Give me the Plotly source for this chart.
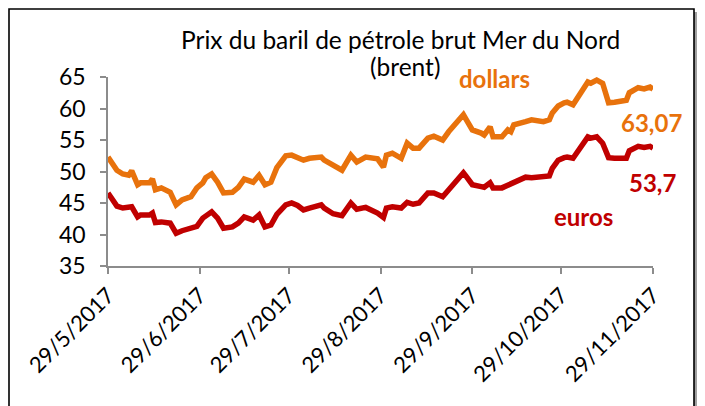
import plotly.graph_objects as go

# ---- data ----
dates = [
    "2017-05-29", "2017-05-30", "2017-06-01", "2017-06-03", "2017-06-05", "2017-06-06",
    "2017-06-08", "2017-06-09", "2017-06-12", "2017-06-13", "2017-06-14", "2017-06-16",
    "2017-06-19", "2017-06-21", "2017-06-23", "2017-06-26", "2017-06-28", "2017-06-30",
    "2017-07-01", "2017-07-03", "2017-07-05", "2017-07-07", "2017-07-10", "2017-07-12",
    "2017-07-14", "2017-07-17", "2017-07-19", "2017-07-21", "2017-07-23", "2017-07-25",
    "2017-07-28", "2017-07-30", "2017-08-01", "2017-08-03", "2017-08-05", "2017-08-09",
    "2017-08-10", "2017-08-13", "2017-08-16", "2017-08-19", "2017-08-21", "2017-08-24",
    "2017-08-28", "2017-08-30", "2017-08-31", "2017-09-02", "2017-09-05", "2017-09-07",
    "2017-09-09", "2017-09-11", "2017-09-14", "2017-09-16", "2017-09-19", "2017-09-21",
    "2017-09-23", "2017-09-26", "2017-09-27", "2017-09-29", "2017-10-02", "2017-10-03",
    "2017-10-05", "2017-10-06", "2017-10-09", "2017-10-11", "2017-10-12", "2017-10-13",
    "2017-10-17", "2017-10-19", "2017-10-23", "2017-10-25", "2017-10-26", "2017-10-28",
    "2017-10-30", "2017-10-31", "2017-11-02", "2017-11-04", "2017-11-07", "2017-11-08",
    "2017-11-10", "2017-11-12", "2017-11-13", "2017-11-14", "2017-11-16", "2017-11-20",
    "2017-11-21", "2017-11-24", "2017-11-26", "2017-11-28", "2017-11-29",
]

dollars = [
    52.3, 51.5, 50.2, 49.6, 49.4, 50.1,
    47.9, 48.2, 48.2, 48.8, 47.1, 47.4,
    46.7, 44.7, 45.5, 46.0, 47.4, 48.2,
    49.0, 49.6, 48.3, 46.6, 46.7, 47.5,
    48.8, 48.3, 49.4, 47.9, 48.3, 50.6,
    52.5, 52.6, 52.3, 51.8, 52.1, 52.3,
    51.8, 51.0, 50.2, 52.6, 51.5, 52.3,
    52.0, 50.7, 52.6, 52.9, 52.1, 54.5,
    53.7, 53.7, 55.3, 55.6, 55.0, 56.3,
    57.4, 59.0, 58.2, 56.6, 56.1, 55.8,
    57.1, 55.5, 55.5, 56.6, 56.3, 57.4,
    57.9, 58.2, 57.9, 58.2, 59.3, 60.4,
    60.9, 61.0, 60.6, 62.1, 64.2, 64.0,
    64.5, 64.0, 62.6, 60.9, 61.0, 61.3,
    62.5, 63.3, 63.1, 63.4, 63.07,
]

euros = [
    46.6, 45.8, 44.5, 44.2, 44.3, 44.4,
    42.8, 43.1, 43.1, 43.4, 41.9, 42.0,
    41.8, 40.2, 40.6, 40.9, 41.3, 42.6,
    43.0, 43.6, 42.6, 41.0, 41.2, 41.8,
    42.8, 42.3, 43.1, 41.2, 41.5, 43.2,
    44.7, 45.0, 44.6, 43.9, 44.2, 44.7,
    44.2, 43.3, 43.0, 45.0, 44.0, 44.3,
    43.4, 42.7, 44.2, 44.4, 44.2, 45.1,
    44.8, 45.0, 46.6, 46.6, 46.0, 47.1,
    47.9, 49.8, 49.2, 47.9, 47.6, 47.5,
    48.2, 47.4, 47.4, 47.8, 47.9, 48.3,
    49.1, 49.0, 49.2, 49.3, 50.5, 51.8,
    52.2, 52.3, 52.1, 53.4, 55.5, 55.3,
    55.5, 54.5, 53.5, 52.2, 52.1, 52.1,
    53.3, 54.0, 53.8, 54.0, 53.7,
]

tick_dates = ["2017-05-29", "2017-06-29", "2017-07-29", "2017-08-29",
              "2017-09-29", "2017-10-29", "2017-11-29"]
tick_labels = ["29/5/2017", "29/6/2017", "29/7/2017", "29/8/2017",
               "29/9/2017", "29/10/2017", "29/11/2017"]
y_ticks = [35, 40, 45, 50, 55, 60, 65]

title_line1 = "Prix du baril de pétrole brut Mer du Nord"
title_line2 = "(brent)"

ORANGE = "#E8720C"
RED = "#C00000"
FONT = "Lato"

# ---- layout geometry (pixels, in page coordinates) ----
OFF = 8  # page body margin offset
W_PAGE, H_PAGE = 705, 406
L, R, T, B = 108, 653, 77, 266
PW, PH = R - L, B - T


def px(x):
    return (x - L) / PW


def py(y):
    return (B - y) / PH


fig = go.Figure()
fig.add_trace(go.Scatter(x=dates, y=dollars, mode="lines", name="dollars",
                         line=dict(color=ORANGE, width=5.5), showlegend=False))
fig.add_trace(go.Scatter(x=dates, y=euros, mode="lines", name="euros",
                         line=dict(color=RED, width=5.5), showlegend=False))

shapes = [
    # shadow
    dict(type="rect", xref="paper", yref="paper", x0=px(14), x1=px(700), y0=py(14), y1=py(470),
         line=dict(width=0), fillcolor="#d8d8d8", layer="below"),
    dict(type="rect", xref="paper", yref="paper", x0=px(12), x1=px(697), y0=py(12), y1=py(470),
         line=dict(width=0), fillcolor="#a0a0a0", layer="below"),
    # frame
    dict(type="rect", xref="paper", yref="paper", x0=px(9), x1=px(694), y0=py(9), y1=py(470),
         line=dict(color="black", width=1.6), fillcolor="white", layer="below"),
]

annotations = [
    dict(text=title_line1, x=px(400), y=py(40), xref="paper", yref="paper",
         showarrow=False, font=dict(family=FONT, size=24.5, color="black"),
         xanchor="center", yanchor="middle"),
    dict(text=title_line2, x=px(405), y=py(67), xref="paper", yref="paper",
         showarrow=False, font=dict(family=FONT, size=24.5, color="black"),
         xanchor="center", yanchor="middle"),
    dict(text="<b>dollars</b>", x=px(494), y=py(78), xref="paper", yref="paper",
         showarrow=False, font=dict(family=FONT, size=24, color=ORANGE),
         xanchor="center", yanchor="middle"),
    dict(text="<b>63,07</b>", x=px(651), y=py(122), xref="paper", yref="paper",
         showarrow=False, font=dict(family=FONT, size=24, color=ORANGE),
         xanchor="center", yanchor="middle"),
    dict(text="<b>53,7</b>", x=px(652), y=py(182), xref="paper", yref="paper",
         showarrow=False, font=dict(family=FONT, size=24, color=RED),
         xanchor="center", yanchor="middle"),
    dict(text="<b>euros</b>", x=px(583), y=py(216), xref="paper", yref="paper",
         showarrow=False, font=dict(family=FONT, size=24, color=RED),
         xanchor="center", yanchor="middle"),
]

fig.update_layout(
    width=W_PAGE - OFF, height=H_PAGE - OFF,
    margin=dict(l=L - OFF, r=W_PAGE - R, t=T - OFF, b=H_PAGE - B, pad=0, autoexpand=False),
    paper_bgcolor="white", plot_bgcolor="rgba(0,0,0,0)",
    shapes=shapes, annotations=annotations, showlegend=False,
    xaxis=dict(type="date", range=["2017-05-29", "2017-11-29"],
               tickvals=tick_dates, ticktext=tick_labels, tickangle=-45,
               showgrid=False, zeroline=False, showline=True, linecolor="#8c8c8c", linewidth=1.5,
               ticks="outside", ticklen=6, tickcolor="#8c8c8c", tickwidth=1.5,
               tickfont=dict(family=FONT, size=22, color="black")),
    yaxis=dict(range=[35, 65], tickvals=y_ticks, showgrid=False, zeroline=False,
               showline=True, linecolor="#8c8c8c", linewidth=1.5,
               ticks="outside", ticklen=6, tickcolor="#8c8c8c", tickwidth=1.5,
               ticklabelstandoff=10,
               tickfont=dict(family=FONT, size=23, color="black")),
)

fig.write_html("out.html")
